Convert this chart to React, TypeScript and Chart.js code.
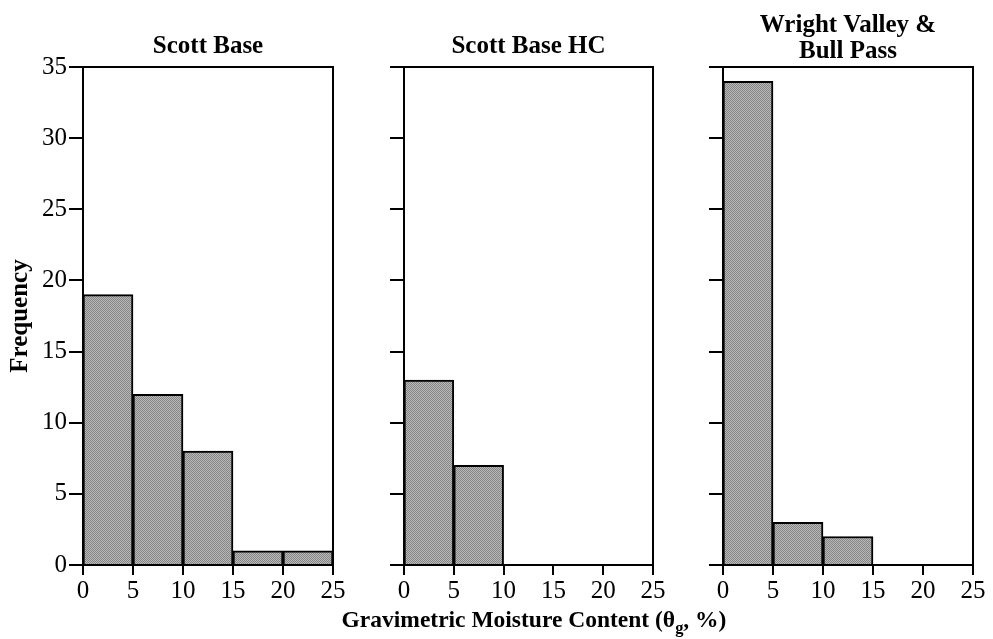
import React, { useEffect, useRef } from 'react';
import { Chart, registerables } from 'chart.js';

Chart.register(...registerables);

// ---- data ----
const binEdges = [0, 5, 10, 15, 20, 25];
const xTickStep = 5;
const yMin = 0;
const yMax = 35;
const yTickStep = 5;

const scottBase = [19, 12, 8, 1, 1];
const scottBaseHC = [13, 7, 0, 0, 0];
const wrightValley = [34, 3, 2, 0, 0];

const panelTitles = [['Scott Base'], ['Scott Base HC'], ['Wright Valley &', 'Bull Pass']];
const yAxisTitle = 'Frequency';
const xAxisTitleMain = 'Gravimetric Moisture Content (θ';
const xAxisTitleSub = 'g';
const xAxisTitleEnd = ', %)';

const panelValues = [scottBase, scottBaseHC, wrightValley];

// ---- layout / style ----
const FONT = '"Liberation Serif", "Times New Roman", Times, serif';
const H = 639;
const layouts = [
  { left: 0, width: 350, yWidth: 83, padRight: 17, showY: true, baselines: [53] },
  { left: 350, width: 320, yWidth: 54, padRight: 17, showY: false, baselines: [53] },
  { left: 670, width: 323, yWidth: 53, padRight: 20, showY: false, baselines: [32, 58] },
];

function makePattern(): CanvasPattern | string {
  const c = document.createElement('canvas');
  c.width = 2;
  c.height = 2;
  const g = c.getContext('2d');
  if (!g) return '#9c9c9c';
  g.fillStyle = '#b8b8b8';
  g.fillRect(0, 0, 2, 2);
  g.fillStyle = '#868686';
  g.fillRect(0, 0, 1, 1);
  g.fillRect(1, 1, 1, 1);
  const p = g.createPattern(c, 'repeat');
  return p || '#9c9c9c';
}

function Panel({ idx }: { idx: number }) {
  const ref = useRef<HTMLCanvasElement>(null);
  const cfg = layouts[idx];
  useEffect(() => {
    const canvas = ref.current;
    if (!canvas) return;
    const values = panelValues[idx];
    const titleLines = panelTitles[idx];
    const points = values.map((v, i) => ({ x: (binEdges[i] + binEdges[i + 1]) / 2, y: v }));

    const framePlugin = {
      id: 'frameAndTitle',
      afterDraw(chart: any) {
        const { ctx, chartArea } = chart;
        ctx.save();
        ctx.strokeStyle = '#000';
        ctx.lineWidth = 2;
        ctx.strokeRect(chartArea.left, chartArea.top, chartArea.right - chartArea.left, chartArea.bottom - chartArea.top);
        ctx.fillStyle = '#000';
        ctx.font = `bold 25px ${FONT}`;
        ctx.textAlign = 'center';
        ctx.textBaseline = 'alphabetic';
        const cx = (chartArea.left + chartArea.right) / 2;
        titleLines.forEach((line, i) => {
          ctx.fillText(line, cx, cfg.baselines[i]);
        });
        ctx.restore();
      },
    };

    const chart = new Chart(canvas, {
      type: 'bar',
      data: {
        datasets: [
          {
            data: points as any,
            backgroundColor: makePattern() as any,
            borderColor: '#000',
            borderWidth: 2,
            barPercentage: 1,
            categoryPercentage: 1,
          },
        ],
      },
      options: {
        responsive: false,
        animation: false,
        devicePixelRatio: 1,
        layout: { padding: { left: 0, right: cfg.padRight, top: 67, bottom: 0 } },
        plugins: {
          legend: { display: false },
          tooltip: { enabled: false },
          title: { display: false },
        },
        scales: {
          x: {
            type: 'linear',
            min: binEdges[0],
            max: binEdges[binEdges.length - 1],
            offset: false,
            ticks: {
              stepSize: xTickStep,
              color: '#000',
              font: { family: FONT, size: 25 },
              padding: 1,
              maxRotation: 0,
              autoSkip: false,
            },
            grid: {
              drawOnChartArea: false,
              drawTicks: true,
              tickLength: 10,
              color: '#000',
              lineWidth: 2,
              offset: false,
            },
            border: { display: true, color: '#000', width: 2 },
            afterFit: (s: any) => {
              s.height = H - 565;
            },
          } as any,
          y: {
            min: yMin,
            max: yMax,
            ticks: {
              stepSize: yTickStep,
              display: cfg.showY,
              color: '#000',
              font: { family: FONT, size: 25 },
              padding: 2,
            },
            grid: {
              drawOnChartArea: false,
              drawTicks: true,
              tickLength: 14,
              color: '#000',
              lineWidth: 2,
            },
            border: { display: true, color: '#000', width: 2 },
            title: {
              display: cfg.showY,
              text: yAxisTitle,
              color: '#000',
              font: { family: FONT, size: 25, weight: 'bold' },
              padding: { top: 6, bottom: 0 },
            },
            afterFit: (s: any) => {
              s.width = cfg.yWidth;
            },
          } as any,
        },
      },
      plugins: [framePlugin],
    });
    return () => chart.destroy();
  }, []);
  return (
    <canvas
      ref={ref}
      width={cfg.width}
      height={H}
      style={{ position: 'absolute', left: cfg.left, top: 0, width: cfg.width, height: H }}
    />
  );
}

export default function App() {
  return (
    <div style={{ position: 'absolute', left: 0, top: 0, width: 993, height: H, background: '#fff', overflow: 'hidden' }}>
      {layouts.map((_, i) => (
        <Panel key={i} idx={i} />
      ))}
      <div
        style={{
          position: 'absolute',
          left: 334,
          width: 400,
          top: 607,
          textAlign: 'center',
          fontFamily: FONT,
          fontWeight: 'bold',
          fontSize: 23.5,
          lineHeight: '24px',
          color: '#000',
          whiteSpace: 'nowrap',
        }}
      >
        {xAxisTitleMain}
        <span style={{ fontSize: '0.7em', position: 'relative', top: '0.35em' }}>{xAxisTitleSub}</span>
        {xAxisTitleEnd}
      </div>
    </div>
  );
}
